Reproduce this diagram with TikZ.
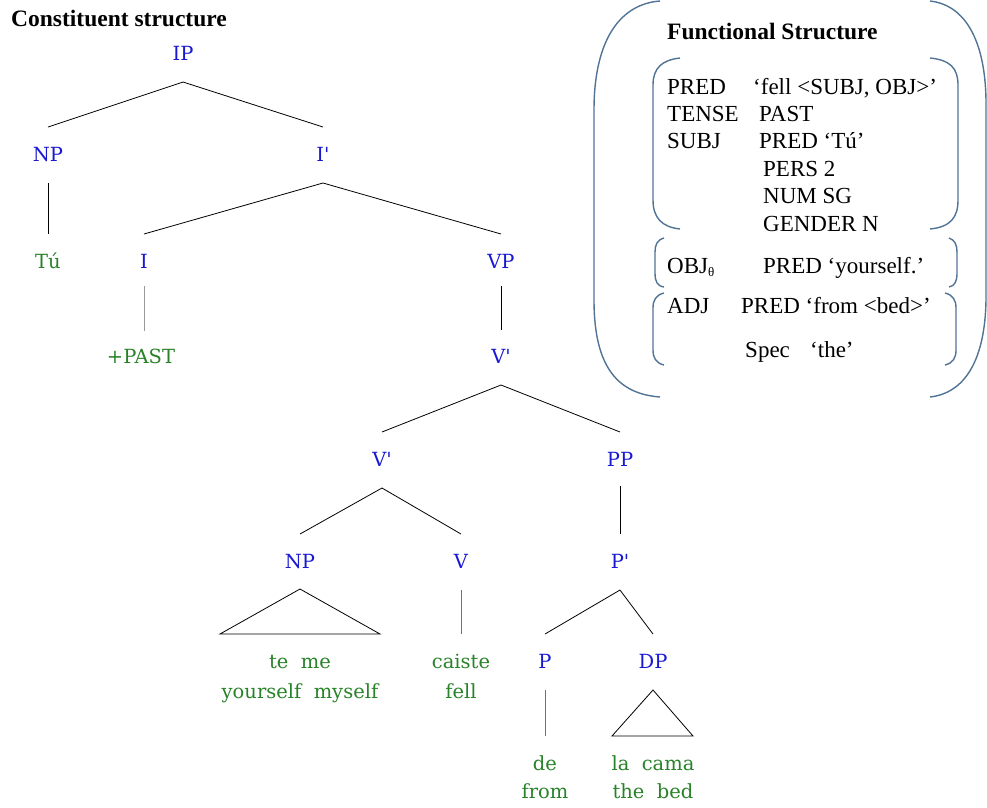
\documentclass[tikz,border=0pt]{standalone}
\usepackage{fontspec}
\setmainfont{Liberation Serif}
\newfontfamily\treefont{DejaVu Serif}
\definecolor{lblue}{RGB}{25,25,210}
\definecolor{lgreen}{RGB}{40,130,40}
\definecolor{brk}{RGB}{80,115,150}
\newcommand{\barmark}{\textquotesingle}
\begin{document}
\begin{tikzpicture}[x=1pt,y=-1pt,
  cat/.style={text=lblue,font=\treefont\fontsize{19.5}{23}\selectfont,inner sep=0pt,text height=0.72em,text depth=0pt,anchor=center},
  word/.style={text=lgreen,font=\treefont\fontsize{19.5}{23}\selectfont,inner sep=0pt,text height=0.72em,text depth=0pt,anchor=center},
  fs/.style={font=\fontsize{23}{27}\selectfont,inner sep=0pt,anchor=base west},
  ttl/.style={font=\fontsize{23.5}{26}\selectfont\bfseries,inner sep=0pt,anchor=base west},
  branch/.style={draw=black,line width=0.8pt},
  lbranch/.style={draw=black!40,line width=0.8pt},
  brace/.style={draw=brk,line width=1.4pt}]
\useasboundingbox (0,0) rectangle (987,807);
% titles
\node[ttl] (ct) at (11,26) {Constituent structure};
\node[ttl] (ft) at (667,39) {Functional Structure};
% tree nodes
\node[cat] (IP) at (183,57) {IP};
\node[cat] (NP1) at (48,158) {NP};
\node[cat] (Ib) at (323,158) {I\barmark};
\node[word] (Tu) at (48,265) {Tú};
\node[cat] (I) at (144,265) {I};
\node[cat] (VP) at (501,265) {VP};
\node[word] (past) at (141,360) {+PAST};
\node[cat] (Vb1) at (501,360) {V\barmark};
\node[cat] (Vb2) at (382,463) {V\barmark};
\node[cat] (PP) at (620,463) {PP};
\node[cat] (NP2) at (300,565) {NP};
\node[cat] (V) at (461,565) {V};
\node[cat] (Pb) at (620,565) {P\barmark};
\node[word] (teme) at (300,665) {te\ \ me};
\node[word] (yoms) at (300,695) {yourself\ \ myself};
\node[word] (caiste) at (461,665) {caiste};
\node[word] (fell) at (461,695) {fell};
\node[cat] (P) at (545,665) {P};
\node[cat] (DP) at (653,665) {DP};
\node[word] (de) at (545,767) {de};
\node[word] (from) at (545,795) {from};
\node[word] (lacama) at (653,767) {la\ \ cama};
\node[word] (thebed) at (653,795) {the\ \ bed};
% branches
\draw[branch] ([yshift=-25pt]IP.center) -- ([yshift=31pt]NP1.center);
\draw[branch] ([yshift=-25pt]IP.center) -- ([yshift=31pt]Ib.center);
\draw[branch] ([yshift=-25pt]NP1.center) -- ([yshift=31pt]Tu.center);
\draw[branch] ([yshift=-25pt]Ib.center) -- ([yshift=31pt]I.center);
\draw[branch] ([yshift=-25pt]Ib.center) -- ([yshift=31pt]VP.center);
\draw[lbranch] ([yshift=-21pt]I.center) -- ([yshift=-66pt]I.center);
\draw[branch] ([yshift=-21pt]VP.center) -- ([yshift=30pt]Vb1.center);
\draw[branch] ([yshift=-25pt]Vb1.center) -- ([yshift=31pt]Vb2.center);
\draw[branch] ([yshift=-25pt]Vb1.center) -- ([yshift=31pt]PP.center);
\draw[branch] ([yshift=-25pt]Vb2.center) -- ([yshift=31pt]NP2.center);
\draw[branch] ([yshift=-25pt]Vb2.center) -- ([yshift=31pt]V.center);
\draw[branch] ([yshift=-23pt]PP.center) -- ([yshift=31pt]Pb.center);
\draw[branch] ([yshift=-25pt]Pb.center) -- ([yshift=31pt]P.center);
\draw[branch] ([yshift=-25pt]Pb.center) -- ([yshift=31pt]DP.center);
\draw[branch] ([yshift=-24pt]NP2.center) -- ([xshift=-80pt,yshift=31pt]teme.center) -- ([xshift=80pt,yshift=31pt]teme.center) -- cycle;
\draw[lbranch,draw=black!55] ([yshift=-25pt]V.center) -- ([yshift=31pt]caiste.center);
\draw[lbranch,draw=black!55] ([yshift=-25pt]P.center) -- ([yshift=31pt]de.center);
\draw[branch] ([yshift=-25pt]DP.center) -- ([xshift=-41pt,yshift=31pt]lacama.center) -- ([xshift=40pt,yshift=31pt]lacama.center) -- cycle;
% f-structure outer brackets
\draw[brace] (660,1) .. controls (620,4) and (594,40) .. (594,110) -- (594,300) .. controls (594,370) and (620,394) .. (660,397);
\draw[brace] (930,1) .. controls (965,5) and (985,40) .. (986,100) -- (986,300) .. controls (985,360) and (965,393) .. (930,397);
% group 1
\draw[brace] (680,58) .. controls (662,60) and (653,68) .. (653,85) -- (653,200) .. controls (653,218) and (662,227) .. (680,229);
\draw[brace] (930,58) .. controls (950,60) and (958,68) .. (958,85) -- (958,200) .. controls (958,218) and (950,227) .. (930,229);
% group 2
\draw[brace] (664,238) .. controls (657,240) and (655,245) .. (655,252) -- (655,273) .. controls (655,281) and (657,286) .. (664,287);
\draw[brace] (949,238) .. controls (955,240) and (957,245) .. (957,252) -- (957,273) .. controls (957,281) and (955,286) .. (949,287);
% group 3
\draw[brace] (664,293) .. controls (656,295) and (653,300) .. (653,308) -- (653,350) .. controls (653,358) and (656,363) .. (664,365);
\draw[brace] (945,293) .. controls (953,295) and (956,300) .. (956,308) -- (956,350) .. controls (956,358) and (953,363) .. (945,365);
% f-structure text
\node[fs] (f1a) at (667,94) {PRED};
\node[fs] (f1b) at (753,94) {‘fell <SUBJ, OBJ>’};
\node[fs] (f2a) at (667,121) {TENSE};
\node[fs] (f2b) at (759,121) {PAST};
\node[fs] (f3a) at (667,148) {SUBJ};
\node[fs] (f3b) at (759,148) {PRED ‘Tú’};
\node[fs] (f4) at (763,176) {PERS 2};
\node[fs] (f5) at (763,203) {NUM SG};
\node[fs] (f6) at (763,231) {GENDER N};
\node[fs] (f7a) at (667,273) {OBJ\raisebox{-0.15em}{\fontsize{13}{14}\selectfont θ}};
\node[fs] (f7b) at (763,273) {PRED ‘yourself.’};
\node[fs] (f8a) at (667,313) {ADJ};
\node[fs] (f8b) at (741,313) {PRED ‘from <bed>’};
\node[fs] (f9a) at (745,357) {Spec};
\node[fs] (f9b) at (810,357) {‘the’};
\end{tikzpicture}
\end{document}
